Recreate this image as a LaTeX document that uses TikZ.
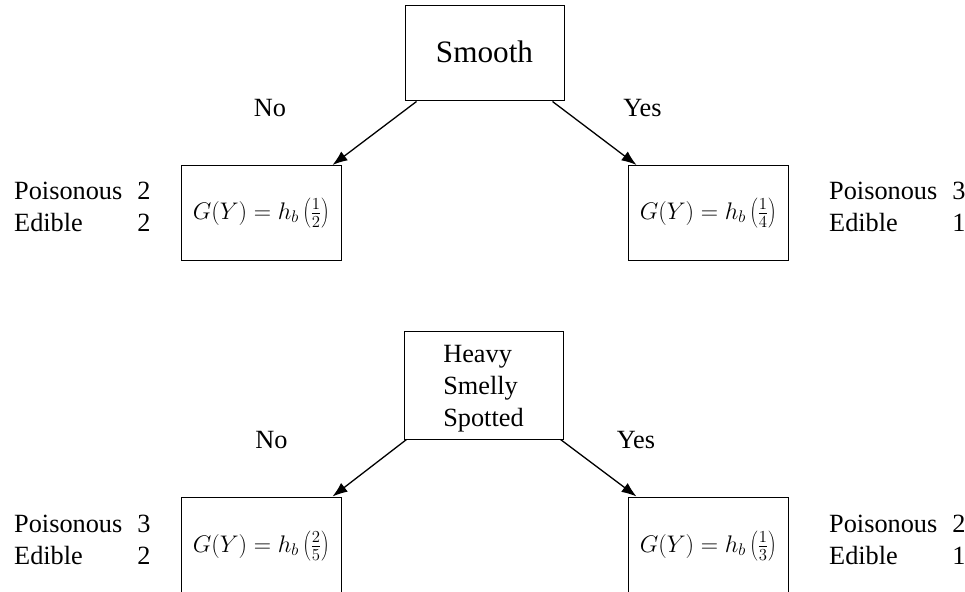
\documentclass[tikz,border=0pt]{standalone}
\usepackage{fix-cm}
\usepackage[no-math]{fontspec}
\setmainfont{Liberation Serif}
\usetikzlibrary{arrows.meta}
\begin{document}
\begin{tikzpicture}[x=1pt,y=-1pt,
  box/.style={draw, line width=1pt, inner sep=0pt},
  leaf/.style={box, minimum width=160pt, minimum height=95pt,
    font=\fontsize{24}{28}\selectfont},
  lbl/.style={inner sep=0pt, font=\fontsize{26.3}{32}\selectfont},
  branch/.style={line width=1.3pt, -{Latex[length=15pt,width=11pt]}}]
\useasboundingbox (0,0) rectangle (965,591);
\clip (0,0) rectangle (965,591);

% upper tree: split on "Smooth"
\node[box, minimum width=159pt, minimum height=95pt, text depth=4pt,
      font=\fontsize{31.2}{36}\selectfont] (smooth) at (484.5,53.5) {Smooth};
\node[leaf] (sno)  at (261,213) {$G(Y)=h_b\left(\frac{1}{2}\right)$};
\node[leaf] (syes) at (708,213) {$G(Y)=h_b\left(\frac{1}{4}\right)$};
\draw[branch] ([xshift=12pt]smooth.south west) -- ([xshift=-9pt]sno.north east);
\draw[branch] ([xshift=-12pt]smooth.south east) -- ([xshift=9pt]syes.north west);
\node[lbl] (snolbl)  at (270,108) {No};
\node[lbl] (syeslbl) at (642.5,108) {Yes};
\node[lbl, anchor=base west] (snocnt) at (14,199)
  {\begin{tabular}[t]{@{}l@{\hspace{15pt}}r@{}}Poisonous & 2\\ Edible & 2\end{tabular}};
\node[lbl, anchor=base west] (syescnt) at (829,199)
  {\begin{tabular}[t]{@{}l@{\hspace{15pt}}r@{}}Poisonous & 3\\ Edible & 1\end{tabular}};

% lower tree: split on "Heavy / Smelly / Spotted"
\node[box, minimum width=159pt, minimum height=108pt] (hss) at (483.5,385) {};
\node[lbl, align=left] (hsstext) at ([yshift=-3.5pt]hss.center) {Heavy\\Smelly\\Spotted};
\node[leaf, minimum height=98pt] (hno)  at (261,546) {$G(Y)=h_b\left(\frac{2}{5}\right)$};
\node[leaf, minimum height=98pt] (hyes) at (708,546) {$G(Y)=h_b\left(\frac{1}{3}\right)$};
\draw[branch] ([xshift=3pt]hss.south west) -- ([xshift=-9pt]hno.north east);
\draw[branch] ([xshift=-3pt]hss.south east) -- ([xshift=9pt]hyes.north west);
\node[lbl] (hnolbl)  at (271.5,440.5) {No};
\node[lbl] (hyeslbl) at (636,440.5) {Yes};
\node[lbl, anchor=base west] (hnocnt) at (14,532)
  {\begin{tabular}[t]{@{}l@{\hspace{15pt}}r@{}}Poisonous & 3\\ Edible & 2\end{tabular}};
\node[lbl, anchor=base west] (hyescnt) at (829,532)
  {\begin{tabular}[t]{@{}l@{\hspace{15pt}}r@{}}Poisonous & 2\\ Edible & 1\end{tabular}};
\end{tikzpicture}
\end{document}
